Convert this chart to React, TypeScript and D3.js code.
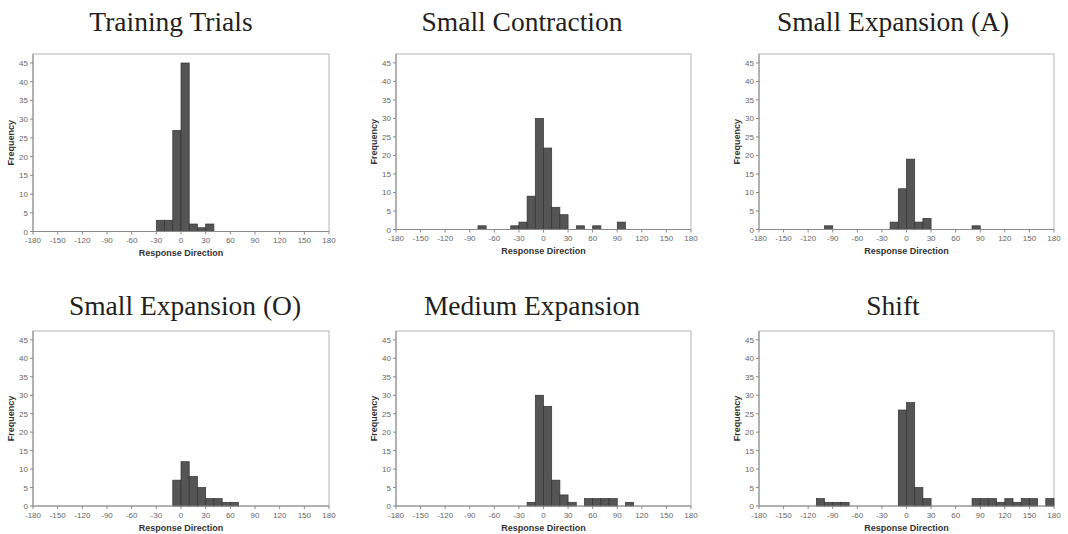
import React from 'react'
import * as d3 from 'd3'

// histogram bins are 10 degrees wide; each start is the left edge of a bin
const trainingStarts = [-30, -20, -10, 0, 10, 20, 30]
const trainingCounts = [3, 3, 27, 45, 2, 1, 2]

const contractionStarts = [-80, -40, -30, -20, -10, 0, 10, 20, 40, 60, 90]
const contractionCounts = [1, 1, 2, 9, 30, 22, 6, 4, 1, 1, 2]

const expansionAStarts = [-100, -20, -10, 0, 10, 20, 80]
const expansionACounts = [1, 2, 11, 19, 2, 3, 1]

const expansionOStarts = [-10, 0, 10, 20, 30, 40, 50, 60]
const expansionOCounts = [7, 12, 8, 5, 2, 2, 1, 1]

const mediumStarts = [-20, -10, 0, 10, 20, 30, 50, 60, 70, 80, 100]
const mediumCounts = [1, 30, 27, 7, 3, 1, 2, 2, 2, 2, 1]

const shiftStarts = [-110, -100, -90, -80, -10, 0, 10, 20, 80, 90, 100, 110, 120, 130, 140, 150, 170]
const shiftCounts = [2, 1, 1, 1, 26, 28, 5, 2, 2, 2, 2, 1, 2, 1, 2, 2, 2]

const titles = ['Training Trials', 'Small Contraction', 'Small Expansion (A)',
  'Small Expansion (O)', 'Medium Expansion', 'Shift']
const xTicks = [-180, -150, -120, -90, -60, -30, 0, 30, 60, 90, 120, 150, 180]
const yTicks = [0, 5, 10, 15, 20, 25, 30, 35, 40, 45]
const binWidth = 10

const panels = [
  { starts: trainingStarts, counts: trainingCounts, left: 33, right: 329, top: 54, bottom: 231.5, titleX: 171, titleY: 31 },
  { starts: contractionStarts, counts: contractionCounts, left: 396, right: 691, top: 54, bottom: 229.5, titleX: 522, titleY: 31 },
  { starts: expansionAStarts, counts: expansionACounts, left: 759, right: 1054, top: 54, bottom: 229.5, titleX: 893, titleY: 31 },
  { starts: expansionOStarts, counts: expansionOCounts, left: 33, right: 329, top: 331, bottom: 506, titleX: 185, titleY: 315 },
  { starts: mediumStarts, counts: mediumCounts, left: 396, right: 691, top: 331, bottom: 506, titleX: 532, titleY: 315 },
  { starts: shiftStarts, counts: shiftCounts, left: 759, right: 1054, top: 331, bottom: 506, titleX: 893, titleY: 315 },
]

const sans = '"Liberation Sans", Arial, sans-serif'

const Panel = ({ p, title }: { p: any, title: string }) => {
  const x = d3.scaleLinear().domain([-180, 180]).range([p.left, p.right])
  const y = d3.scaleLinear().domain([0, 47.4]).range([p.bottom, p.top])
  const midY = (p.top + p.bottom) / 2
  return (
    <g>
      <text x={p.titleX} y={p.titleY} textAnchor="middle"
        style={{ fontFamily: '"Liberation Serif", "Times New Roman", serif', fontSize: 27.5 }} fill="#231f20">
        {title}
      </text>
      <rect x={p.left} y={p.top} width={p.right - p.left} height={p.bottom - p.top}
        fill="#fff" stroke="#b4b4b4" strokeWidth={1} />
      {p.starts.map((s: number, i: number) => (
        <rect key={i} x={x(s)} y={y(p.counts[i])} width={x(s + binWidth) - x(s)}
          height={p.bottom - y(p.counts[i])} fill="#555555" stroke="#333" strokeWidth={0.7} />
      ))}
      <line x1={p.left} x2={p.left} y1={p.top} y2={p.bottom} stroke="#8a8a8a" />
      <line x1={p.left} x2={p.right} y1={p.bottom} y2={p.bottom} stroke="#8a8a8a" />
      {yTicks.map(t => (
        <g key={t}>
          <line x1={p.left - 3} x2={p.left} y1={y(t)} y2={y(t)} stroke="#8a8a8a" />
          <text x={p.left - 5} y={y(t) + 3} textAnchor="end" fill="#666"
            style={{ fontFamily: sans, fontSize: 8 }}>{t}</text>
        </g>
      ))}
      {xTicks.map(t => (
        <g key={t}>
          <line x1={x(t)} x2={x(t)} y1={p.bottom} y2={p.bottom + 3} stroke="#8a8a8a" />
          <text x={x(t)} y={p.bottom + 11.5} textAnchor="middle" fill="#666"
            style={{ fontFamily: sans, fontSize: 8 }}>{t}</text>
        </g>
      ))}
      <text x={(p.left + p.right) / 2} y={p.bottom + 24.5} textAnchor="middle" fill="#333"
        style={{ fontFamily: sans, fontSize: 9, fontWeight: 'bold' }}>
        Response Direction
      </text>
      <text transform={`translate(${p.left - 19},${midY}) rotate(-90)`} textAnchor="middle" fill="#333"
        style={{ fontFamily: sans, fontSize: 9, fontWeight: 'bold' }}>
        Frequency
      </text>
    </g>
  )
}

const App = () => {
  return (
    <svg width={1068} height={534} style={{ position: 'absolute', left: 0, top: 0, background: '#fff' }}>
      {panels.map((p, i) => <Panel key={i} p={p} title={titles[i]} />)}
    </svg>
  )
}

export default App
